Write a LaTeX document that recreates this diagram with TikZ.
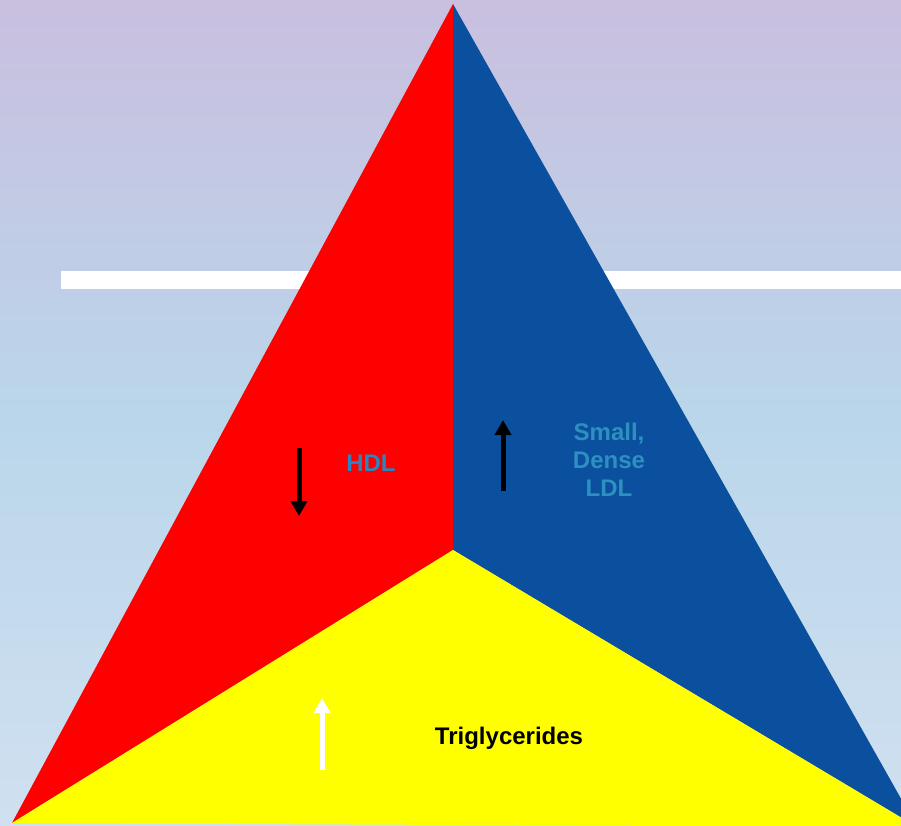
\documentclass[tikz,border=0pt]{standalone}
\usepackage{fontspec}
\setmainfont{Liberation Sans}
\usepackage{tikz}
\usetikzlibrary{arrows.meta,positioning}
\definecolor{bgtop}{RGB}{201,191,223}
\definecolor{bgmid}{RGB}{186,214,234}
\definecolor{bgbot}{RGB}{208,224,240}
\definecolor{hdlred}{RGB}{255,0,0}
\definecolor{ldlblue}{RGB}{10,80,158}
\definecolor{tgyellow}{RGB}{255,255,0}
\definecolor{labelblue}{RGB}{42,133,192}
\definecolor{labelteal}{RGB}{46,144,192}
\tikzset{
    label text/.style={font=\fontsize{24}{28}\selectfont\bfseries, align=center, inner sep=0pt},
    trend arrow/.style={line width=5pt, -{Triangle[width=16pt,length=15pt]}}
}

\begin{document}
\begin{tikzpicture}[x=1pt,y=-1pt]
\useasboundingbox (0,0) rectangle (901,826);
\clip (0,0) rectangle (901,826);

% background
\shade[top color=bgtop, bottom color=bgbot, middle color=bgmid] (0,0) rectangle (901,826);
\fill[white] (61,271) rectangle (901,289);

% corners of the triangle
\coordinate (apex) at (453,4);
\coordinate (centre) at (453,550);
\coordinate (left) at (12,823);
\coordinate (right) at (917,827);

\fill[hdlred] (apex) -- (centre) -- (left) -- cycle;
\fill[ldlblue] (apex) -- (right) -- (centre) -- cycle;
\fill[tgyellow] (left) -- (centre) -- (right) -- cycle;

% labels
\node[label text, text=labelblue] (hdl) at (371,463) {HDL};
\node[label text, text=labelteal] (ldl) at (609,460) {Small,\\Dense\\LDL};
\node[label text, text=black] (tg) at (509,738) {Triglycerides};

% trend arrows
\coordinate (hdl start) at (299,448);
\coordinate (hdl end) at (299,516);
\coordinate (ldl start) at (503,491);
\coordinate (ldl end) at (503,420);
\coordinate (tg start) at (322,770);
\coordinate (tg end) at (322,698);

\draw[trend arrow, black] (hdl start) -- (hdl end);
\draw[trend arrow, black] (ldl start) -- (ldl end);
\draw[trend arrow, white] (tg start) -- (tg end);
\end{tikzpicture}
\end{document}
